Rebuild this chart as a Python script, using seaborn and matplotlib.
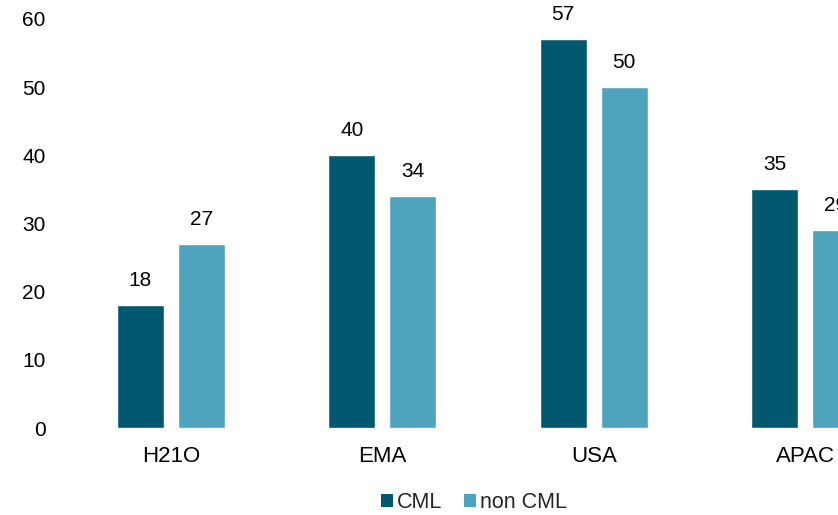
import matplotlib
matplotlib.use("Agg")
import matplotlib.pyplot as plt
import seaborn as sns
import pandas as pd
from matplotlib.patches import Patch

# data
regions = ["H21O", "EMA", "USA", "APAC"]
cml = [18, 40, 57, 35]
non_cml = [27, 34, 50, 29]
series = ["CML", "non CML"]
colors = ["#02586F", "#4EA3BD"]

df = pd.DataFrame({
    "region": regions * 2,
    "value": cml + non_cml,
    "series": ["CML"] * len(regions) + ["non CML"] * len(regions),
})

sns.set_style("white")
plt.rcParams["font.family"] = ["Liberation Sans", "DejaVu Sans"]
plt.rcParams["font.size"] = 15

fig = plt.figure(figsize=(8.38, 5.15), dpi=100)
# axes run past the right edge of the figure like the original crop
ax = fig.add_axes([65 / 838, 87 / 515, 846 / 838, 409 / 515])

sns.barplot(data=df, x="region", y="value", hue="series", order=regions,
            hue_order=series, palette=colors, width=0.577, gap=0.23,
            saturation=1, legend=False, ax=ax)

for cont in ax.containers:
    ax.bar_label(cont, padding=11, fontsize=15, color="#000000")

ax.set_ylim(0, 60)
ax.set_yticks(range(0, 61, 10))
ax.set_xlim(-0.5, len(regions) - 0.5)
ax.set_xlabel("")
ax.set_ylabel("")
ax.tick_params(axis="both", length=0, colors="#000000")
ax.tick_params(axis="y", pad=14, labelsize=15)
ax.tick_params(axis="x", pad=13, labelsize=16)
sns.despine(ax=ax, left=True, bottom=True)

handles = [Patch(facecolor=c, edgecolor="none", label=s) for s, c in zip(series, colors)]
fig.legend(handles=handles, loc="center", bbox_to_anchor=(474 / 838, 12 / 515),
           ncol=2, frameon=False, handlelength=0.55, handleheight=0.55,
           handletextpad=0.2, columnspacing=1.0, fontsize=15.5)

fig.savefig("out.png", dpi=100)
